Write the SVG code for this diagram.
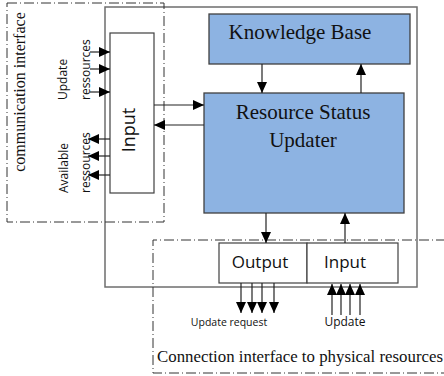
<svg xmlns="http://www.w3.org/2000/svg" width="444" height="376" viewBox="0 0 444 376">
<defs>
<marker id="ah" markerUnits="userSpaceOnUse" markerWidth="11" markerHeight="11" viewBox="0 0 11 11" refX="11" refY="5.5" orient="auto">
<path d="M0,0.5 L11,5.5 L0,10.5 Z" fill="#000"/>
</marker>
<style>
.dd{fill:none;stroke:#333;stroke-width:1;stroke-dasharray:10 3 1 3}
.outer{fill:none;stroke:#6e6e6e;stroke-width:1.5}
.blue{fill:#8db3e2;stroke:#404040;stroke-width:1.3}
.wbox{fill:#fff;stroke:#404040;stroke-width:1.2}
.arr{stroke:#222;stroke-width:1.2;fill:none;marker-end:url(#ah)}
.serif{font-family:"Liberation Serif","Times New Roman",serif;fill:#111}
.sans{font-family:"Open Sans","DejaVu Sans",sans-serif;fill:#111}
</style>
</defs>
<rect width="444" height="376" fill="#fff"/>
<g id="outer-frame">
<rect class="outer" x="105" y="7" width="312" height="280"/>
</g>
<g id="communication-interface">
<rect class="dd" x="7" y="3" width="157" height="219"/>
<text class="serif" font-size="16" text-anchor="middle" transform="translate(25,92) rotate(-90)">communication interface</text>
</g>
<g id="connection-interface">
<path class="dd" d="M446,240 H153 V373 H446"/>
<text class="serif" font-size="16.5" x="157" y="362" textLength="286" lengthAdjust="spacingAndGlyphs">Connection interface to physical resources</text>
</g>
<g id="input-left">
<rect class="wbox" x="110" y="33" width="44" height="160"/>
<text class="sans" font-size="18" text-anchor="middle" transform="translate(135,130) rotate(-90)">Input</text>
</g>
<g id="knowledge-base">
<rect class="blue" x="209" y="14" width="201" height="50"/>
<text class="serif" font-size="21" x="300" y="39" text-anchor="middle">Knowledge Base</text>
</g>
<g id="resource-status-updater">
<rect class="blue" x="204" y="93" width="200" height="120"/>
<text class="serif" font-size="21" x="303" y="119" text-anchor="middle">Resource Status</text>
<text class="serif" font-size="21" x="303" y="147" text-anchor="middle">Updater</text>
</g>
<g id="output-input-bottom">
<rect class="wbox" x="219" y="243" width="88" height="40"/>
<rect class="wbox" x="307" y="243" width="91" height="40"/>
<text class="sans" font-size="17" x="260" y="268" text-anchor="middle">Output</text>
<text class="sans" font-size="17" x="345" y="268" text-anchor="middle">Input</text>
</g>
<g id="labels">
<text class="sans" font-size="12" transform="translate(67,100) rotate(-90)">Update</text>
<text class="sans" font-size="12" transform="translate(90,100) rotate(-90)">ressources</text>
<text class="sans" font-size="12" transform="translate(68,193) rotate(-90)">Available</text>
<text class="sans" font-size="12" transform="translate(90,193) rotate(-90)">ressources</text>
<text class="sans" font-size="10.5" x="229" y="326" text-anchor="middle">Update request</text>
<text class="sans" font-size="12" x="345" y="326" text-anchor="middle">Update</text>
</g>
<g id="connectors">
<path class="arr" d="M90,52 H110"/>
<path class="arr" d="M90,69 H110"/>
<path class="arr" d="M90,92 H110"/>
<path class="arr" d="M110,139 H88"/>
<path class="arr" d="M110,156 H88"/>
<path class="arr" d="M110,175 H88"/>
<path class="arr" d="M154,105 H204"/>
<path class="arr" d="M204,125 H154"/>
<path class="arr" d="M262,64 V93"/>
<path class="arr" d="M361,93 V64"/>
<path class="arr" d="M266,213 V243"/>
<path class="arr" d="M345,243 V213"/>
<path class="arr" d="M241,283 V313"/>
<path class="arr" d="M252,283 V313"/>
<path class="arr" d="M262,283 V313"/>
<path class="arr" d="M274,283 V313"/>
<path class="arr" d="M332,315 V284"/>
<path class="arr" d="M341,315 V284"/>
<path class="arr" d="M350,315 V284"/>
<path class="arr" d="M360,315 V284"/>
</g>
</svg>
